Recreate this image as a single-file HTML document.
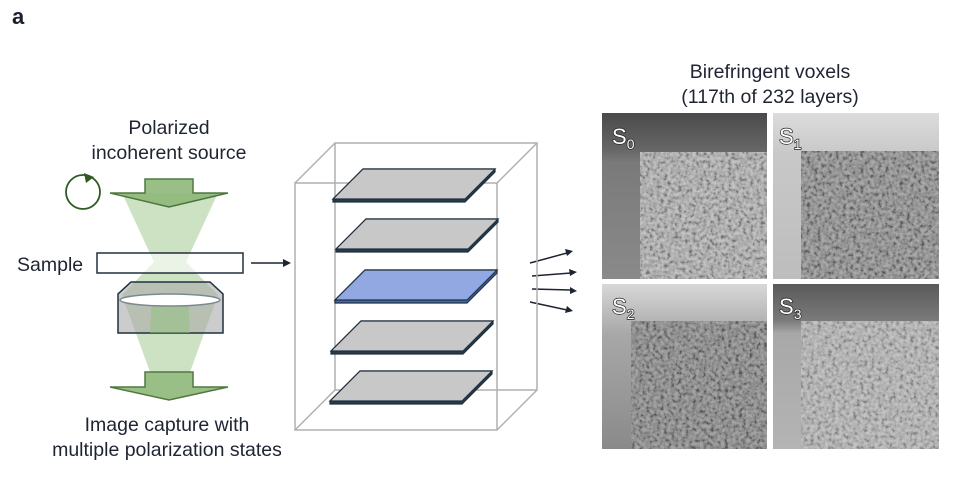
<!DOCTYPE html>
<html><head><meta charset="utf-8"><style>body{margin:0;background:#fff}svg{display:block}</style></head><body>
<svg width="954" height="488" viewBox="0 0 954 488" xmlns="http://www.w3.org/2000/svg" font-family="Liberation Sans, Arial, sans-serif">
<defs>
<filter id="nz" x="0" y="0" width="100%" height="100%">
<feTurbulence type="fractalNoise" baseFrequency="0.28" numOctaves="2" seed="3"/>
<feColorMatrix type="matrix" values="2.2 0 0 0 -0.6  2.2 0 0 0 -0.6  2.2 0 0 0 -0.6  0 0 0 0 1"/>
</filter>
<linearGradient id="g0" x1="0" y1="0" x2="0" y2="1"><stop offset="0" stop-color="#4a4a4a"/><stop offset="0.22" stop-color="#666"/><stop offset="0.3" stop-color="#7a7a7a"/><stop offset="1" stop-color="#8a8a8a"/></linearGradient>
<linearGradient id="g1" x1="0" y1="0" x2="0" y2="1"><stop offset="0" stop-color="#dcdcdc"/><stop offset="0.25" stop-color="#c8c8c8"/><stop offset="1" stop-color="#bdbdbd"/></linearGradient>
<linearGradient id="g2" x1="0" y1="0" x2="0" y2="1"><stop offset="0" stop-color="#d8d8d8"/><stop offset="0.3" stop-color="#a8a8a8"/><stop offset="1" stop-color="#8a8a8a"/></linearGradient>
<linearGradient id="g3" x1="0" y1="0" x2="0" y2="1"><stop offset="0" stop-color="#5a5a5a"/><stop offset="0.22" stop-color="#7a7a7a"/><stop offset="0.3" stop-color="#a8a8a8"/><stop offset="1" stop-color="#b4b4b4"/></linearGradient>
</defs>
<text x="12" y="24" font-size="22" font-weight="bold" fill="#1a1f2e">a</text>
<g font-size="19.5" fill="#1f2433" text-anchor="middle">
<text x="169" y="134">Polarized</text>
<text x="169" y="159">incoherent source</text>
<text x="167" y="431">Image capture with</text>
<text x="167" y="456">multiple polarization states</text>
<text x="770" y="78">Birefringent voxels</text>
<text x="770" y="103">(117th of 232 layers)</text>
</g>
<text x="17" y="271" font-size="19.5" fill="#1f2433">Sample</text>
<!-- beam -->
<polygon points="122,193 218,193 186,262 218,295 190,372 150,372 122,295 154,262" fill="#8fbf7a" opacity="0.45"/>
<circle cx="83" cy="192" r="17" fill="none" stroke="#2f5a22" stroke-width="1.8"/>
<polygon points="84,173 94,177 86,183" fill="#2f5a22"/>
<polygon points="145,179 193,179 193,193 228,193 169,207 110,193 145,193" fill="#8fb87a" stroke="#3f6a2e" stroke-width="1.5" opacity="0.9"/>
<rect x="97" y="253" width="146" height="20" fill="#fff" fill-opacity="0.6" stroke="#1f3040" stroke-width="1.5"/>
<polygon points="131,282 210,282 223,294 223,333 118,333 118,294" fill="#aaa" fill-opacity="0.6" stroke="#1f3040" stroke-width="1.5"/>
<polygon points="152,295 188,295 190,333 150,333" fill="#8fbf7a" opacity="0.5"/>
<ellipse cx="170" cy="300" rx="50" ry="6" fill="#fff" stroke="#7a8a90" stroke-width="1.5"/>
<polygon points="145,372 193,372 193,387 228,387 169,400 110,387 145,387" fill="#8fb87a" stroke="#3f6a2e" stroke-width="1.5" opacity="0.9"/>
<g stroke="#1f2433" stroke-width="1.5" fill="#1f2433">
<line x1="251" y1="263" x2="285" y2="263"/><polygon points="291,263 283,259 283,267" stroke="none"/>
<line x1="530" y1="263" x2="567" y2="253"/><polygon points="573,251 565,249 567,256" stroke="none"/>
<line x1="532" y1="276" x2="571" y2="273"/><polygon points="577,272 569,269 570,276" stroke="none"/>
<line x1="532" y1="289" x2="571" y2="290"/><polygon points="577,291 570,287 570,294" stroke="none"/>
<line x1="530" y1="302" x2="567" y2="310"/><polygon points="573,311 567,306 565,313" stroke="none"/>
</g>
<!-- box -->
<g fill="none" stroke="#b0b0b0" stroke-width="1.5">
<rect x="335" y="143" width="202" height="247"/>
<rect x="295" y="183" width="202" height="247"/>
<line x1="295" y1="183" x2="335" y2="143"/><line x1="497" y1="183" x2="537" y2="143"/>
<line x1="295" y1="430" x2="335" y2="390"/><line x1="497" y1="430" x2="537" y2="390"/>
</g>
<g stroke="#1f3040" stroke-width="1.2">
<g><polygon points="363,169 495,169 495,172 465,202 333,202 333,199" fill="#2a3a44"/><polygon points="363,169 495,169 465,199 333,199" fill="#c8c8c8"/></g>
<g transform="translate(3,50)"><polygon points="363,169 495,169 495,172 465,202 333,202 333,199" fill="#2a3a44"/><polygon points="363,169 495,169 465,199 333,199" fill="#c8c8c8"/></g>
<g transform="translate(2,101)"><polygon points="363,169 495,169 495,172 465,202 333,202 333,199" fill="#4466aa"/><polygon points="363,169 495,169 465,199 333,199" fill="#92a8e2"/></g>
<g transform="translate(-2,152)"><polygon points="363,169 495,169 495,172 465,202 333,202 333,199" fill="#2a3a44"/><polygon points="363,169 495,169 465,199 333,199" fill="#c8c8c8"/></g>
<g transform="translate(-3,202)"><polygon points="363,169 495,169 495,172 465,202 333,202 333,199" fill="#2a3a44"/><polygon points="363,169 495,169 465,199 333,199" fill="#c8c8c8"/></g>
</g>
<!-- panels -->
<g>
<rect x="602" y="113" width="165" height="166" fill="url(#g0)"/>
<rect x="640" y="152" width="127" height="127" fill="#a9a9a9"/>
<rect x="640" y="152" width="127" height="127" filter="url(#nz)" opacity="0.3"/>
<rect x="773" y="113" width="166" height="166" fill="url(#g1)"/>
<rect x="801" y="151" width="138" height="128" fill="#858585"/>
<rect x="801" y="151" width="138" height="128" filter="url(#nz)" opacity="0.3"/>
<rect x="602" y="284" width="165" height="165" fill="url(#g2)"/>
<rect x="631" y="321" width="136" height="128" fill="#7e7e7e"/>
<rect x="631" y="321" width="136" height="128" filter="url(#nz)" opacity="0.3"/>
<rect x="773" y="284" width="166" height="165" fill="url(#g3)"/>
<rect x="801" y="321" width="138" height="128" fill="#b0b0b0"/>
<rect x="801" y="321" width="138" height="128" filter="url(#nz)" opacity="0.25"/>
</g>
<g font-size="22" fill="#fff" stroke="#222" stroke-width="1.4" paint-order="stroke">
<text x="612" y="144">S<tspan font-size="14" dy="5">0</tspan></text>
<text x="779" y="144">S<tspan font-size="14" dy="5">1</tspan></text>
<text x="612" y="314">S<tspan font-size="14" dy="5">2</tspan></text>
<text x="779" y="314">S<tspan font-size="14" dy="5">3</tspan></text>
</g>
</svg>
</body></html>
